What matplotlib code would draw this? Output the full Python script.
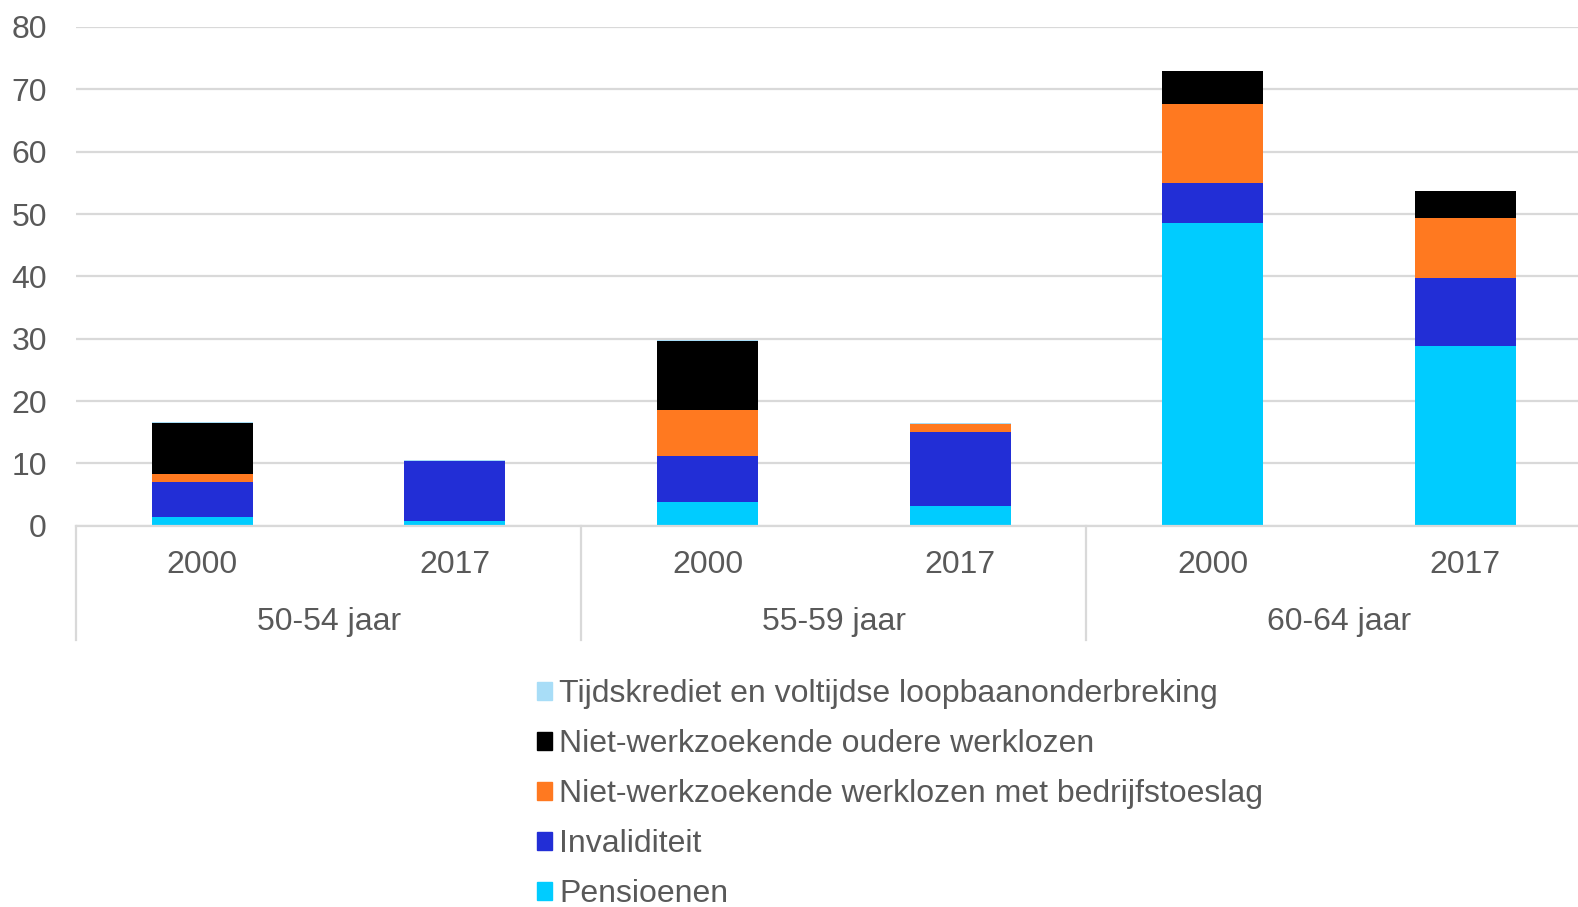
import numpy as np
import matplotlib
matplotlib.use("Agg")
import matplotlib.pyplot as plt
from matplotlib.patches import Patch

plt.rcParams["font.family"] = ["Liberation Sans", "DejaVu Sans"]

# ─── Data ─────────────────────────────────────────────────────────────────────
years = ["2000", "2017", "2000", "2017", "2000", "2017"]
groups = ["50-54 jaar", "55-59 jaar", "60-64 jaar"]

pensioenen = [1.35, 0.75, 3.75, 3.1, 48.5, 28.8]
invaliditeit = [5.6, 9.7, 7.45, 11.9, 6.4, 10.9]
bedrijfstoeslag = [1.35, 0.0, 7.3, 1.25, 12.8, 9.7]
oudere_werklozen = [8.1, 0.0, 11.05, 0.1, 5.3, 4.3]
tijdskrediet = [0.2, 0.1, 0.2, 0.1, 0.0, 0.0]

series = [
    ("Pensioenen", pensioenen, "#00CCFF"),
    ("Invaliditeit", invaliditeit, "#222ED6"),
    ("Niet-werkzoekende werklozen met bedrijfstoeslag", bedrijfstoeslag, "#FF7920"),
    ("Niet-werkzoekende oudere werklozen", oudere_werklozen, "#000000"),
    ("Tijdskrediet en voltijdse loopbaanonderbreking", tijdskrediet, "#A8DDF7"),
]

TXT = "#595959"
GRID = "#D9D9D9"
FS = 23

fig = plt.figure(figsize=(15.78, 9.07), dpi=100)
ax = fig.add_axes([76 / 1578, (907 - 525.7) / 907, 1515.6 / 1578, (525.7 - 27) / 907])

x = np.arange(len(years))
bottom = np.zeros(len(years))
for name, vals, col in series:
    ax.bar(x, vals, width=0.4, bottom=bottom, color=col, zorder=3)
    bottom += np.array(vals)

ax.set_xlim(-0.5, len(years) - 0.5)
ax.set_ylim(0, 80)
ax.set_yticks(range(0, 81, 10))
ax.tick_params(axis="y", length=0, pad=21, labelsize=FS, labelcolor=TXT)
ax.set_xticks([])
for s in ax.spines.values():
    s.set_visible(False)
ax.grid(axis="y", color=GRID, linewidth=1.6, zorder=0)

# two-level category axis
trans = ax.get_xaxis_transform()
ax.plot([-0.5, len(years) - 0.5], [0, 0], color=GRID, lw=1.6, transform=trans,
        clip_on=False, zorder=4)
for xi, yr in zip(x, years):
    ax.text(xi, -0.079, yr, transform=trans, ha="center", va="center",
            fontsize=FS, color=TXT)
for gi, g in enumerate(groups):
    ax.text(2 * gi + 0.5, -0.194, g, transform=trans, ha="center", va="center",
            fontsize=FS, color=TXT)
for sx in [-0.5, 1.5, 3.5]:
    ax.plot([sx, sx], [0, -0.23], color=GRID, lw=1.6, transform=trans,
            clip_on=False)

# legend (reversed order, top = last series)
handles = [Patch(color=c, label=n) for n, _, c in series[::-1]]
fig.legend(handles=handles, loc="upper left", bbox_to_anchor=(537 / 1578, 1 - 679 / 907),
           frameon=False, fontsize=FS, labelcolor=TXT, handlelength=0.48,
           handleheight=0.48, handletextpad=0.22, labelspacing=0.63,
           borderaxespad=0, borderpad=0)

fig.savefig("out.png", dpi=100)
